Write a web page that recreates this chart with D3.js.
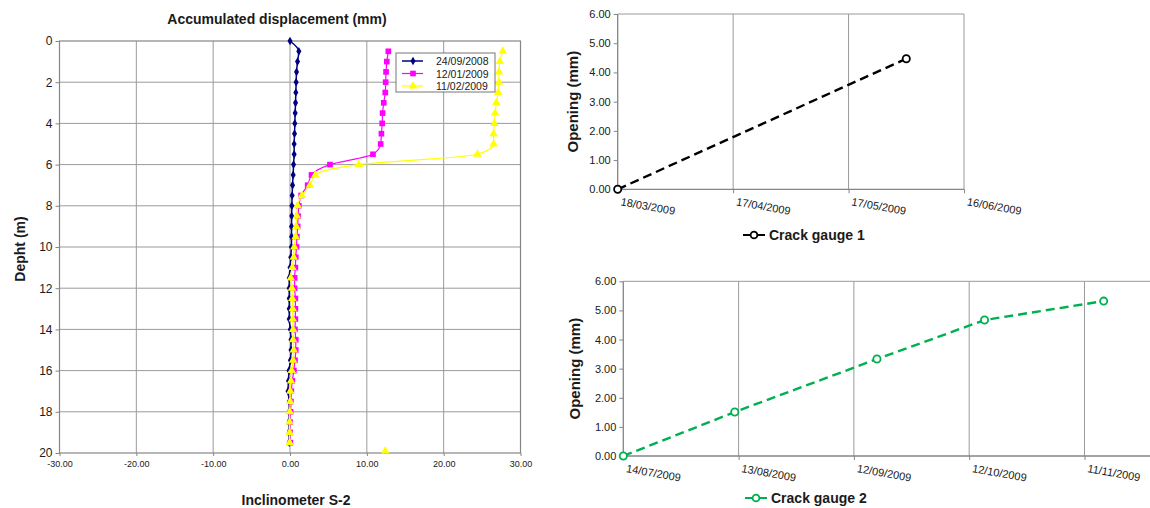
<!DOCTYPE html>
<html>
<head>
  <meta charset="utf-8">
  <script src="https://d3js.org/d3.v7.min.js"></script>
  <style>
    body {
      margin: 0;
      background: #ffffff;
      font-family: 'Liberation Sans', Arial, sans-serif;
    }
    svg text {
      fill: #1a1a1a;
    }
    .domain {
      display: none;
    }
  </style>
</head>
<body>
  <svg id="chart" width="1150" height="508"></svg>
  <script type="text/javascript">
    /*
      Inclinometer S-2 readings (depth in m, displacement in mm)
    */
    var depthFull = [0, 0.5, 1, 1.5, 2, 2.5, 3, 3.5, 4, 4.5, 5, 5.5, 6, 6.5, 7, 7.5, 8, 8.5, 9, 9.5,
                     10, 10.5, 11, 11.5, 12, 12.5, 13, 13.5, 14, 14.5, 15, 15.5, 16, 16.5, 17, 17.5, 18, 18.5, 19, 19.5];
    var depthPart = [0.5, 1, 1.5, 2, 2.5, 3, 3.5, 4, 4.5, 5, 5.5, 6, 6.5, 7, 7.5, 8, 8.5, 9, 9.5,
                     10, 10.5, 11, 11.5, 12, 12.5, 13, 13.5, 14, 14.5, 15, 15.5, 16, 16.5, 17, 17.5, 18, 18.5, 19, 19.5];
    var disp20080924 = [0.0, 1.15, 0.98, 0.85, 0.8, 0.76, 0.72, 0.67, 0.63, 0.59, 0.54, 0.54, 0.46, 0.41, 0.33, 0.28, 0.24, 0.22, 0.2, 0.2,
                        0.18, 0.1, 0.0, -0.1, -0.1, -0.1, -0.1, -0.1, 0.04, 0.13, 0.13, 0.05, -0.13, -0.2, -0.26, -0.1, -0.1, -0.1, -0.1, -0.1];
    var disp20090112 = [12.8, 12.6, 12.5, 12.45, 12.4, 12.2, 12.05, 12.0, 11.9, 11.8, 10.8, 5.2, 2.8, 2.3, 1.45, 1.15, 1.05, 1.0, 0.9,
                        0.85, 0.75, 0.7, 0.6, 0.6, 0.7, 0.7, 0.7, 0.65, 0.75, 0.75, 0.65, 0.5, 0.3, 0.17, 0.12, 0.08, 0.0, 0.0, 0.04];
    var disp20090211 = [27.7, 27.3, 27.2, 27.2, 27.1, 26.85, 26.7, 26.6, 26.5, 26.5, 24.4, 8.95, 3.3, 2.6, 1.55, 1.0, 0.9, 0.82, 0.74,
                        0.56, 0.48, 0.3, 0.1, 0.25, 0.3, 0.35, 0.35, 0.4, 0.4, 0.48, 0.4, 0.22, 0.13, 0.04, 0.02, -0.04, -0.05, -0.05, -0.05];
    // lone reading at the bottom of the 11/02/2009 series (not joined)
    var strayDepth = [20];
    var strayDisp = [12.4];
    var inclinoLabels = ["24/09/2008", "12/01/2009", "11/02/2009"];
    var dispTicks = [-30, -20, -10, 0, 10, 20, 30];
    var depthTicks = [0, 2, 4, 6, 8, 10, 12, 14, 16, 18, 20];

    /*
      Crack gauges (opening in mm)
    */
    var gauge1Dates = ["18/03/2009", "01/06/2009"];
    var gauge1Values = [0.0, 4.47];
    var gauge1Ticks = ["18/03/2009", "17/04/2009", "17/05/2009", "16/06/2009"];
    var gauge2Dates = ["14/07/2009", "12/08/2009", "18/09/2009", "16/10/2009", "16/11/2009"];
    var gauge2Values = [0.0, 1.51, 3.33, 4.67, 5.32];
    var gauge2Ticks = ["14/07/2009", "13/08/2009", "12/09/2009", "12/10/2009", "11/11/2009"];
    var openingTicks = [0, 1, 2, 3, 4, 5, 6];

    var parseDate = d3.utcParse("%d/%m/%Y");
    var svg = d3.select("#chart");
    var gridColor = "#9a9a9a";
    var axisColor = "#858585";

    /* ---------- Inclinometer chart ---------- */
    var x = d3.scaleLinear().domain([-30, 30]).range([59.5, 520.5]);
    var y = d3.scaleLinear().domain([0, 20]).range([41, 453]);

    var inc = svg.append("g").attr("class", "inclinometer");

    inc.selectAll(".hgrid")
      .data(depthTicks.slice(1, -1))
      .enter().append("line")
        .attr("x1", x(-30)).attr("x2", x(30))
        .attr("y1", function (d) { return y(d); })
        .attr("y2", function (d) { return y(d); })
        .attr("stroke", gridColor).attr("stroke-width", 1);

    inc.selectAll(".vgrid")
      .data(dispTicks.slice(1, -1))
      .enter().append("line")
        .attr("y1", y(0)).attr("y2", y(20))
        .attr("x1", function (d) { return x(d); })
        .attr("x2", function (d) { return x(d); })
        .attr("stroke", gridColor).attr("stroke-width", 1);

    inc.append("rect")
      .attr("x", x(-30)).attr("y", y(0))
      .attr("width", x(30) - x(-30)).attr("height", y(20) - y(0))
      .attr("fill", "none").attr("stroke", axisColor).attr("stroke-width", 1.2);

    var yAxisL = inc.append("g")
      .attr("transform", "translate(" + x(-30) + ",0)")
      .call(d3.axisLeft(y).tickValues(depthTicks).tickSize(4).tickPadding(3)
        .tickFormat(function (d) { return d; }));
    yAxisL.selectAll("text").attr("font-size", "12px").attr("font-family", "'Liberation Sans', Arial, sans-serif");
    yAxisL.selectAll("line").attr("stroke", axisColor);

    var xAxisL = inc.append("g")
      .attr("transform", "translate(0," + y(20) + ")")
      .call(d3.axisBottom(x).tickValues(dispTicks).tickSize(3).tickPadding(5)
        .tickFormat(function (d) { return d.toFixed(2); }));
    xAxisL.selectAll("text").attr("font-size", "9px").attr("fill", "#333").attr("font-family", "'Liberation Sans', Arial, sans-serif");
    xAxisL.selectAll("line").attr("stroke", axisColor);

    var incSeries = [
      { name: inclinoLabels[0], depth: depthFull, disp: disp20080924, color: "#000080", width: 1.5, marker: d3.symbolDiamond, size: 22 },
      { name: inclinoLabels[1], depth: depthPart, disp: disp20090112, color: "#ff00ff", width: 1.2, marker: d3.symbolSquare, size: 32 },
      { name: inclinoLabels[2], depth: depthPart, disp: disp20090211, color: "#ffff00", width: 1.2, marker: d3.symbolTriangle, size: 32 }
    ];

    // smoothed lines, depth is monotone so no overshoot
    var incLine = d3.line()
      .x(function (d) { return x(d[1]); })
      .y(function (d) { return y(d[0]); })
      .curve(d3.curveMonotoneY);

    incSeries.forEach(function (s) {
      var pts = s.depth.map(function (dd, i) { return [dd, s.disp[i]]; });
      inc.append("path")
        .attr("d", incLine(pts))
        .attr("fill", "none")
        .attr("stroke", s.color)
        .attr("stroke-width", s.width);
      inc.selectAll(null)
        .data(pts)
        .enter().append("path")
          .attr("d", d3.symbol().type(s.marker).size(s.size))
          .attr("transform", function (d) { return "translate(" + x(d[1]) + "," + y(d[0]) + ")"; })
          .attr("fill", s.color);
    });

    // stray point of the last series
    inc.selectAll(null)
      .data(strayDepth.map(function (dd, i) { return [dd, strayDisp[i]]; }))
      .enter().append("path")
        .attr("d", d3.symbol().type(d3.symbolTriangle).size(32))
        .attr("transform", function (d) { return "translate(" + x(d[1]) + "," + (y(d[0]) - 2) + ")"; })
        .attr("fill", "#ffff00");

    // legend
    var leg = inc.append("g").attr("transform", "translate(396,53)");
    leg.append("rect")
      .attr("width", 99).attr("height", 39)
      .attr("fill", "#fff").attr("stroke", "#777").attr("stroke-width", 1);
    incSeries.forEach(function (s, i) {
      var ly = 8 + i * 12.5;
      leg.append("line")
        .attr("x1", 6).attr("x2", 27).attr("y1", ly).attr("y2", ly)
        .attr("stroke", s.color).attr("stroke-width", s.width);
      leg.append("path")
        .attr("d", d3.symbol().type(s.marker).size(s.size))
        .attr("transform", "translate(17," + ly + ")")
        .attr("fill", s.color);
      leg.append("text")
        .attr("x", 40).attr("y", ly + 4)
        .attr("font-size", "10.5px")
        .text(s.name);
    });

    inc.append("text")
      .attr("x", 277).attr("y", 24)
      .attr("text-anchor", "middle")
      .attr("font-size", "14px").attr("font-weight", "bold")
      .text("Accumulated displacement (mm)");

    inc.append("text")
      .attr("x", 296).attr("y", 505)
      .attr("text-anchor", "middle")
      .attr("font-size", "14px").attr("font-weight", "bold")
      .text("Inclinometer S-2");

    inc.append("text")
      .attr("transform", "translate(25,249) rotate(-90)")
      .attr("text-anchor", "middle")
      .attr("font-size", "14px").attr("font-weight", "bold")
      .text("Depht (m)");

    /* ---------- Crack gauge charts ---------- */
    function drawGauge(opt) {
      var g = svg.append("g");
      var gx = d3.scaleTime()
        .domain([parseDate(opt.start), parseDate(opt.end)])
        .range([opt.left, opt.right]);
      var gy = d3.scaleLinear().domain([0, 6]).range([opt.bottom, opt.top]);
      var ticks = opt.ticks.map(parseDate);

      // vertical gridlines
      g.selectAll(null)
        .data(ticks.slice(1))
        .enter().append("line")
          .attr("x1", function (d) { return gx(d); })
          .attr("x2", function (d) { return gx(d); })
          .attr("y1", opt.top).attr("y2", opt.bottom)
          .attr("stroke", gridColor).attr("stroke-width", 1);

      // top edge of plot area
      g.append("line")
        .attr("x1", opt.left).attr("x2", opt.right)
        .attr("y1", opt.top).attr("y2", opt.top)
        .attr("stroke", gridColor).attr("stroke-width", 1);

      var ya = g.append("g")
        .attr("transform", "translate(" + opt.left + ",0)")
        .call(d3.axisLeft(gy).tickValues(openingTicks).tickSize(4).tickPadding(3)
          .tickFormat(function (d) { return d.toFixed(2); }));
      ya.selectAll("text").attr("font-size", "11px").attr("fill", "#222").attr("font-family", "'Liberation Sans', Arial, sans-serif");
      ya.selectAll("line").attr("stroke", axisColor);

      var xa = g.append("g")
        .attr("transform", "translate(0," + opt.bottom + ")")
        .call(d3.axisBottom(gx).tickValues(ticks).tickSize(4)
          .tickFormat(d3.utcFormat("%d/%m/%Y")));
      xa.selectAll("line").attr("stroke", axisColor);
      xa.selectAll("text")
        .attr("font-size", "11px").attr("fill", "#222")
        .attr("font-family", "'Liberation Sans', Arial, sans-serif")
        .attr("text-anchor", "start")
        .attr("dy", null)
        .attr("y", 0)
        .attr("transform", "translate(2,16) rotate(10)");

      g.append("line")
        .attr("x1", opt.left).attr("x2", opt.left)
        .attr("y1", opt.top).attr("y2", opt.bottom)
        .attr("stroke", axisColor).attr("stroke-width", 1.3);
      g.append("line")
        .attr("x1", opt.left).attr("x2", opt.right)
        .attr("y1", opt.bottom).attr("y2", opt.bottom)
        .attr("stroke", axisColor).attr("stroke-width", 1.3);

      var pts = opt.dates.map(function (d, i) { return [parseDate(d), opt.values[i]]; });
      g.append("path")
        .attr("d", d3.line()
          .x(function (d) { return gx(d[0]); })
          .y(function (d) { return gy(d[1]); })(pts))
        .attr("fill", "none")
        .attr("stroke", opt.color)
        .attr("stroke-width", 2.4)
        .attr("stroke-dasharray", "9,5");
      g.selectAll(null)
        .data(pts)
        .enter().append("circle")
          .attr("cx", function (d) { return gx(d[0]); })
          .attr("cy", function (d) { return gy(d[1]); })
          .attr("r", 3.6)
          .attr("fill", "#fff")
          .attr("stroke", opt.color)
          .attr("stroke-width", 1.8);

      g.append("text")
        .attr("transform", "translate(" + opt.ylabelX + "," + ((opt.top + opt.bottom) / 2) + ") rotate(-90)")
        .attr("text-anchor", "middle")
        .attr("font-size", "15px").attr("font-weight", "bold")
        .text("Opening (mm)");

      // legend
      g.append("line")
        .attr("x1", opt.legendX).attr("x2", opt.legendX + 22)
        .attr("y1", opt.legendY).attr("y2", opt.legendY)
        .attr("stroke", opt.color).attr("stroke-width", 2);
      g.append("circle")
        .attr("cx", opt.legendX + 11).attr("cy", opt.legendY).attr("r", 3.4)
        .attr("fill", "#fff").attr("stroke", opt.color).attr("stroke-width", 1.8);
      g.append("text")
        .attr("x", opt.legendX + 26).attr("y", opt.legendY + 5)
        .attr("font-size", "14px").attr("font-weight", "bold")
        .text(opt.name);
    }

    drawGauge({
      name: "Crack gauge 1",
      dates: gauge1Dates, values: gauge1Values, ticks: gauge1Ticks,
      start: "18/03/2009", end: "16/06/2009",
      left: 617.7, right: 964, top: 14, bottom: 189.3,
      color: "#000000", ylabelX: 578, legendX: 743, legendY: 235
    });

    drawGauge({
      name: "Crack gauge 2",
      dates: gauge2Dates, values: gauge2Values, ticks: gauge2Ticks,
      start: "14/07/2009", end: "30/11/2009",
      left: 623.3, right: 1157.5, top: 281.3, bottom: 456,
      color: "#00b050", ylabelX: 580, legendX: 745, legendY: 498
    });
  </script>
</body>
</html>
